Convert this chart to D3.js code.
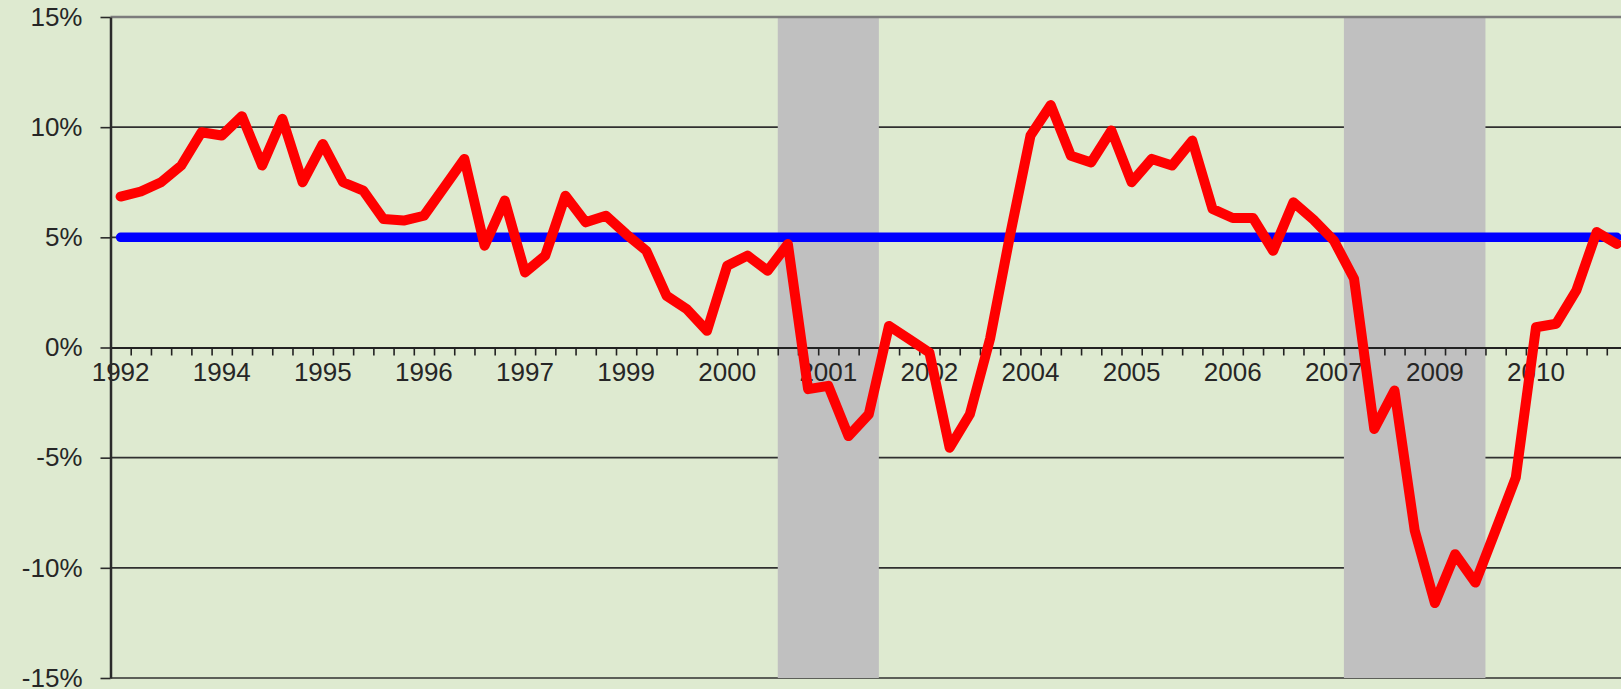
<!DOCTYPE html>
<html>
<head>
<meta charset="utf-8">
<script src="https://cdn.jsdelivr.net/npm/d3@7"></script>
<style>
  html, body { margin: 0; padding: 0; background: #deead0; }
  svg { display: block; }
</style>
</head>
<body>
<div id="chart"></div>
<script>
// quarterly growth, 1992Q4 .. 2011Q2
const quarters = d3.range(75).map(i => {
    const q = i + 3;
    return (1992 + Math.floor(q / 4)) + "Q" + (q % 4 + 1);
});

const growth = [
    6.85, 7.08, 7.5, 8.26, 9.77, 9.62, 10.5, 8.26, 10.38, 7.5,
    9.24, 7.5, 7.12, 5.83, 5.76, 5.98, 7.27, 8.56, 4.62, 6.67,
    3.41, 4.17, 6.89, 5.68, 5.98, 5.15, 4.39, 2.35, 1.74, 0.76,
    3.71, 4.17, 3.48, 4.7, -1.89, -1.74, -4.02, -3.03, 0.98, 0.38,
    -0.23, -4.55, -3.03, 0.4, 5.15, 9.62, 11.0, 8.7, 8.4, 9.85,
    7.5, 8.56, 8.26, 9.39, 6.29, 5.88, 5.88, 4.39, 6.59, 5.8,
    4.86, 3.12, -3.7, -1.95, -8.3, -11.6, -9.38, -10.67, -8.3, -5.9,
    0.92, 1.08, 2.6, 5.24, 4.7
];

const target = quarters.map(() => 5);

// recession quarters (first, last)
const recessions = [["2001Q1", "2002Q1"], ["2008Q1", "2009Q3"]];

const yearLabels = ["1992", "1994", "1995", "1996", "1997", "1999", "2000", "2001",
    "2002", "2004", "2005", "2006", "2007", "2009", "2010"];

const yTicks = [-15, -10, -5, 0, 5, 10, 15];

drawChart();

function drawChart() {
    const width = 1621;
    const height = 689;
    const left = 110.5;
    const step = 20.22;

    const svg = d3.select("#chart")
        .append("svg")
        .attr("width", width)
        .attr("height", height);

    svg.append("rect")
        .attr("width", width)
        .attr("height", height)
        .attr("fill", "#deead0");

    const x = d3.scaleBand()
        .domain(quarters)
        .range([left, left + quarters.length * step])
        .padding(0);

    // band edges, for the minor ticks
    const xEdge = d3.scaleLinear()
        .domain([0, quarters.length])
        .range([left, left + quarters.length * step]);

    const y = d3.scaleLinear()
        .domain([-15, 15])
        .range([678, 17]);

    // gridlines
    svg.selectAll(".grid")
        .data(yTicks.filter(d => d !== 0 && d !== 15))
        .enter().append("line")
        .attr("class", "grid")
        .attr("x1", left)
        .attr("x2", width)
        .attr("y1", d => y(d))
        .attr("y2", d => y(d))
        .attr("stroke", "#303030")
        .attr("stroke-width", 1.6);

    // recession shading
    svg.selectAll(".rec")
        .data(recessions)
        .enter().append("rect")
        .attr("class", "rec")
        .attr("x", d => x(d[0]))
        .attr("width", d => x(d[1]) + x.bandwidth() - x(d[0]))
        .attr("y", y(15))
        .attr("height", y(-15) - y(15))
        .attr("fill", "#c0c0c0");

    // top border
    svg.append("line")
        .attr("x1", left)
        .attr("x2", width)
        .attr("y1", y(15))
        .attr("y2", y(15))
        .attr("stroke", "#7c7c7c")
        .attr("stroke-width", 2.5);

    // x axis on the 0% line
    const xAxis = svg.append("g")
        .attr("transform", `translate(0,${y(0)})`)
        .call(d3.axisBottom(xEdge)
            .tickValues(d3.range(1, quarters.length + 1))
            .tickSize(8)
            .tickSizeOuter(0)
            .tickFormat(""));
    xAxis.select(".domain").attr("stroke", "#222").attr("stroke-width", 2);
    xAxis.selectAll(".tick line").attr("stroke", "#222").attr("stroke-width", 1.6);

    const xLabels = svg.append("g")
        .attr("transform", `translate(0,${y(0)})`)
        .call(d3.axisBottom(x)
            .tickValues(quarters.filter((d, i) => i % 5 === 0))
            .tickSize(0)
            .tickPadding(15)
            .tickFormat((d, i) => yearLabels[i]));
    xLabels.select(".domain").remove();
    xLabels.selectAll("text")
        .style("font-family", "'Liberation Sans', Arial, sans-serif")
        .style("font-size", "26px")
        .attr("fill", "#262626");

    // y axis
    const yAxis = svg.append("g")
        .attr("transform", `translate(${left},0)`)
        .call(d3.axisLeft(y)
            .tickValues(yTicks)
            .tickSize(10)
            .tickSizeOuter(0)
            .tickPadding(18)
            .tickFormat(d => d + "%"));
    yAxis.select(".domain").attr("stroke", "#2a2a2a").attr("stroke-width", 2.5);
    yAxis.selectAll(".tick line").attr("stroke", "#2a2a2a").attr("stroke-width", 1.6);
    yAxis.selectAll("text")
        .style("font-family", "'Liberation Sans', Arial, sans-serif")
        .style("font-size", "26px")
        .attr("fill", "#262626");

    const cx = d => x(d) + x.bandwidth() / 2;

    // 5% line
    const targetLine = d3.line()
        .x((d, i) => cx(quarters[i]))
        .y(d => y(d));

    svg.append("path")
        .datum(target)
        .attr("d", targetLine)
        .attr("fill", "none")
        .attr("stroke", "#0000ff")
        .attr("stroke-width", 9.5)
        .attr("stroke-linecap", "round");

    // growth line
    const growthLine = d3.line()
        .x((d, i) => cx(quarters[i]))
        .y(d => y(d));

    svg.append("path")
        .datum(growth)
        .attr("d", growthLine)
        .attr("fill", "none")
        .attr("stroke", "#ff0000")
        .attr("stroke-width", 10)
        .attr("stroke-linejoin", "round")
        .attr("stroke-linecap", "round");
}
</script>
</body>
</html>
